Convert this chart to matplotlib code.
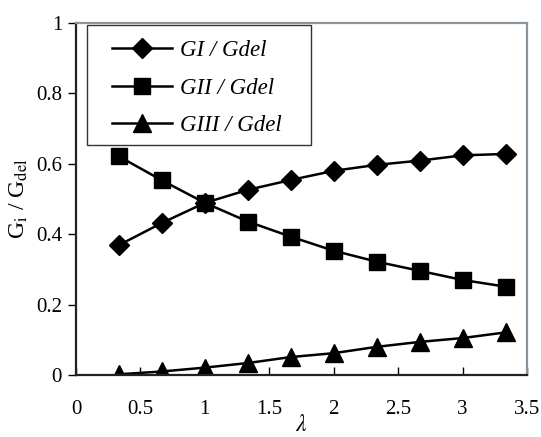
import matplotlib.pyplot as plt
from matplotlib.patches import Rectangle
import numpy as np

plt.rcParams['font.family'] = ['Liberation Serif', 'DejaVu Serif']
plt.rcParams['mathtext.fontset'] = 'stix'

lam = np.array([1/3, 2/3, 1, 4/3, 5/3, 2, 7/3, 8/3, 3, 10/3])
g1 = np.array([0.369, 0.432, 0.489, 0.526, 0.554, 0.580, 0.597, 0.609, 0.624, 0.628])
g2 = np.array([0.621, 0.553, 0.489, 0.436, 0.393, 0.353, 0.322, 0.296, 0.270, 0.251])
g3 = np.array([0.002, 0.010, 0.021, 0.034, 0.051, 0.062, 0.080, 0.094, 0.105, 0.121])
names = ['GI / Gdel', 'GII / Gdel', 'GIII / Gdel']

W, H = 541, 437
fig = plt.figure(figsize=(W / 100, H / 100), dpi=100)
ax = fig.add_axes([76 / W, 1 - 375 / H, 451 / W, 352 / H])

ax.plot(lam, g1, color='black', lw=1.8, marker='D', ms=10.5, label=names[0])
ax.plot(lam, g2, color='black', lw=1.8, marker='s', ms=12, label=names[1])
ax.plot(lam, g3, color='black', lw=1.8, marker='^', ms=13, label=names[2])

ax.set_xlim(0, 3.5)
ax.set_ylim(0, 1)
ax.set_xticks(np.arange(0, 3.51, 0.5))
ax.set_xticklabels(['0', '0.5', '1', '1.5', '2', '2.5', '3', '3.5'])
ax.set_yticks([0, 0.2, 0.4, 0.6, 0.8, 1])
ax.set_yticklabels(['0', '0.2', '0.4', '0.6', '0.8', '1'])
ax.tick_params(axis='x', direction='in', length=6, width=1, labelsize=15, pad=18)
ax.tick_params(axis='y', direction='out', length=6, width=1, labelsize=15, pad=4)

for s in ['left', 'bottom']:
    ax.spines[s].set_color('#222222')
    ax.spines[s].set_linewidth(1.6)
for s in ['top', 'right']:
    ax.spines[s].set_color('#8a949c')
    ax.spines[s].set_linewidth(1.6)

ax.set_xlabel(r'$\lambda$', fontsize=17, labelpad=-3)
ax.set_ylabel(r'G$_{\mathrm{i}}$ / G$_{\mathrm{del}}$', fontsize=17, labelpad=4)

# legend box (wider padding on the left than matplotlib's symmetric frame)
box = Rectangle((87 / W, 1 - 145 / H), 224 / W, 120 / H, transform=fig.transFigure,
                facecolor='white', edgecolor='#333333', lw=1.0, zorder=5)
fig.add_artist(box)
leg = fig.legend(loc='upper left', bbox_to_anchor=(112 / W, 1 - 40 / H),
                 bbox_transform=fig.transFigure,
                 prop={'style': 'italic', 'size': 16.5}, frameon=False,
                 handlelength=2.6, borderpad=0, borderaxespad=0,
                 labelspacing=0.72, handletextpad=0.35)
leg.set_zorder(6)

fig.savefig('out.png', dpi=100)
